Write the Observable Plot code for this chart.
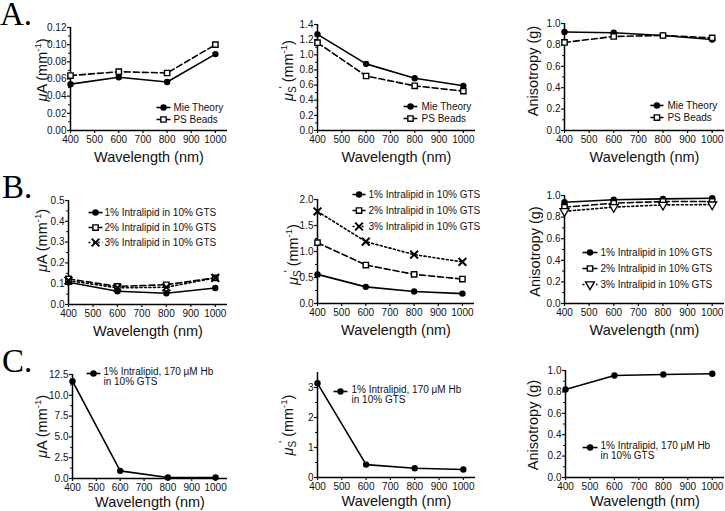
<!DOCTYPE html>
<html><head><meta charset="utf-8">
<script src="https://cdn.jsdelivr.net/npm/d3@7"></script>
<script src="https://cdn.jsdelivr.net/npm/@observablehq/plot@0.6"></script>
<style>
body{margin:0;background:#fff}
#chart{position:relative;width:725px;height:511px;overflow:hidden;background:#fff;font-family:"Liberation Sans",Arial,sans-serif}
#chart svg{position:absolute;left:0;top:0}
.letter{position:absolute;font-family:"Liberation Serif","Times New Roman",serif;font-size:33px;line-height:26px;color:#000}
</style></head><body><div id="chart"></div>
<script>
// ---- data ----
const wavelengths = [400, 600, 800, 1000];
const xTickValues = [400, 500, 600, 700, 800, 900, 1000];
const panelLetters = ["A.", "B.", "C."];
// Row A: Mie theory vs PS beads
const muA_mie = [0.054, 0.062, 0.0565, 0.089];
const muA_ps  = [0.064, 0.0685, 0.067, 0.100];
const mus_mie = [1.27, 0.88, 0.69, 0.59];
const mus_ps  = [1.16, 0.72, 0.59, 0.52];
const g_mie   = [0.92, 0.913, 0.888, 0.851];
const g_ps    = [0.823, 0.879, 0.888, 0.866];
// Row B: Intralipid in 10% GTS
const muA_il1 = [0.107, 0.064, 0.054, 0.079];
const muA_il2 = [0.123, 0.087, 0.095, 0.128];
const muA_il3 = [0.115, 0.080, 0.083, 0.128];
const mus_il1 = [0.56, 0.32, 0.23, 0.19];
const mus_il2 = [1.17, 0.74, 0.56, 0.47];
const mus_il3 = [1.77, 1.19, 0.94, 0.80];
const g_il1   = [0.938, 0.96, 0.969, 0.975];
const g_il2   = [0.892, 0.929, 0.944, 0.944];
const g_il3   = [0.854, 0.892, 0.913, 0.916];
// Row C: Intralipid + Hb
const muA_hb  = [11.7, 0.92, 0.12, 0.12];
const mus_hb  = [3.14, 0.43, 0.31, 0.265];
const g_hb    = [0.822, 0.953, 0.962, 0.969];
// labels
const labelsA = ["Mie Theory", "PS Beads"];
const labelsB = ["1% Intralipid in 10% GTS", "2% Intralipid in 10% GTS", "3% Intralipid in 10% GTS"];
const labelsC = ["1% Intralipid, 170 μM Hb\nin 10% GTS"];
const xTitle = "Wavelength (nm)";
const yTitles = {muA: "μA (mm-1)", mus: "μs' (mm-1)", g: "Anisotropy (g)"};

// ---- styles ----
const styles = [
  {dash: null, dot: {symbol: "circle", r: 3.2, fill: "#000", stroke: "none"}},
  {dash: "6,3", dot: {symbol: "square", r: 3, fill: "#fff", stroke: "#000", strokeWidth: 1.4}},
  {dash: "2,2.5", dot: {symbol: "times", r: 3.6, fill: "none", stroke: "#000", strokeWidth: 2}},
  {dash: "2,2.5", dot: {symbol: "triangle", r: 3.3, fill: "#fff", stroke: "#000", strokeWidth: 1.3, rotate: 180}}
];

const panels = [
  {frame:[70,227,27,130], yMax:0.12, yStep:0.02, fmt:".2f", yt:"muA", ytOff:[-28,-9], xtDy:27,
   series:[[muA_mie,labelsA[0],0],[muA_ps,labelsA[1],1]], legX:[756,814,826], legY:[0.0268,0.0128]},
  {frame:[317,475,24,130], yMax:1.4, yStep:0.2, fmt:".1f", yt:"mus", ytOff:[-29,-7], xtDy:27,
   series:[[mus_mie,labelsA[0],0],[mus_ps,labelsA[1],1]], legX:[754,811,828], legY:[0.317,0.158]},
  {frame:[564,724,23,130], yMax:1.0, yStep:0.2, fmt:".1f", yt:"g", ytOff:[-31,-6], xtDy:27,
   series:[[g_mie,labelsA[0],0],[g_ps,labelsA[1],1]], legX:[749,802,818], legY:[0.234,0.121]},
  {frame:[68,227,200,304], yMax:0.5, yStep:0.1, fmt:".1f", yt:"muA", ytOff:[-26,-12], xtDy:27,
   series:[[muA_il1,labelsB[0],0],[muA_il2,labelsB[1],1],[muA_il3,labelsB[2],2]], legX:[482,539,547], legY:[0.442,0.370,0.298]},
  {frame:[317,474,199,303], yMax:2.0, yStep:0.5, fmt:".1f", yt:"mus", ytOff:[-24,3], xtDy:27,
   series:[[mus_il1,labelsB[0],0],[mus_il2,labelsB[1],1],[mus_il3,labelsB[2],2]], legX:[545,599,611], legY:[2.096,1.788,1.481]},
  {frame:[564,724,195,303], yMax:1.0, yStep:0.2, fmt:".1f", yt:"g", ytOff:[-29,2], xtDy:27,
   series:[[g_il1,labelsB[0],0],[g_il2,labelsB[1],1],[g_il3,labelsB[2],3]], legX:[473,534,546], legY:[0.472,0.324,0.176]},
  {frame:[72,227,374,478], yMax:12.5, yStep:2.5, fmt:".1f", yt:"muA", ytOff:[-30,0], xtDy:24,
   series:[[muA_hb,labelsC[0],0]], legX:[459,517,530], legY:[12.62]},
  {frame:[317,475,372,477], yMax:3.5, yStep:1, tickMax:3, fmt:"d", yt:"mus", ytOff:[-29,0], xtDy:24,
   series:[[mus_hb,labelsC[0],0]], legX:[466,523,540], legY:[2.867]},
  {frame:[565,724,370,477], yMax:1.0, yStep:0.2, fmt:".1f", yt:"g", ytOff:[-32,1], xtDy:24,
   series:[[g_hb,labelsC[0],0]], legX:[470,531,543], legY:[0.280]}
];

const richParts = {
  muA: [{t:"μ", it:true}, {t:"A (mm"}, {t:"-1", sup:true}, {t:")"}],
  mus: [{t:"μ", it:true}, {t:"S", sub:true}, {t:"'", prime:true}, {t:" (mm"}, {t:"-1", sup:true}, {t:")"}],
  g: null
};

const chart = document.getElementById("chart");
const W = 725, H = 511;

function ticksFor(p) {
  const max = p.tickMax ?? p.yMax;
  const n = Math.round(max / p.yStep);
  const major = d3.range(n + 1).map(i => +(i * p.yStep).toFixed(6));
  const minor = d3.range(n).map(i => +((i + 0.5) * p.yStep).toFixed(6));
  return {major, minor};
}

panels.forEach(p => {
  const [L, R, T, B] = p.frame;
  const {major, minor} = ticksFor(p);
  const marks = [
    Plot.ruleX([400], {stroke: "#000", strokeWidth: 1.5}),
    Plot.ruleY([0], {stroke: "#000", strokeWidth: 1.5}),
    Plot.axisX(xTickValues, {tickSize: 3, tickPadding: 2, fontSize: 10, label: null, tickFormat: d3.format("d"), color: "#111", strokeWidth: 1.2}),
    Plot.axisY(major, {tickSize: 3, tickPadding: 1, fontSize: 10, label: null, tickFormat: d3.format(p.fmt), color: "#111", strokeWidth: 1.2}),
    Plot.axisY(minor, {tickSize: 2, tickFormat: () => "", label: null, color: "#111", strokeWidth: 1})
  ];
  p.series.forEach(([vals, label, si]) => {
    const rows = vals.map((v, j) => ({x: wavelengths[j], y: v}));
    const st = styles[si];
    marks.push(Plot.line(rows, {x: "x", y: "y", stroke: "#000", strokeWidth: 1.6, strokeDasharray: st.dash}));
  });
  p.series.forEach(([vals, label, si]) => {
    const rows = vals.map((v, j) => ({x: wavelengths[j], y: v}));
    marks.push(Plot.dot(rows, {x: "x", y: "y", ...styles[si].dot}));
  });
  // legend
  p.series.forEach(([vals, label, si], i) => {
    const st = styles[si];
    const ly = p.legY[i];
    marks.push(Plot.link([ly], {x1: () => p.legX[0], x2: () => p.legX[1], y1: d => d, y2: d => d, stroke: "#000", strokeWidth: 1.6, strokeDasharray: st.dash}));
    marks.push(Plot.dot([ly], {x: () => (p.legX[0] + p.legX[1]) / 2, y: d => d, ...st.dot}));
    const multi = label.includes("\n");
    marks.push(Plot.text([label], {x: () => p.legX[2], y: () => ly, text: d => d, textAnchor: "start", fontSize: 10, fill: "#111",
      lineAnchor: multi ? "top" : "middle", dy: multi ? -6 : 0, lineHeight: 1.0}));
  });
  marks.push(Plot.text([xTitle], {frameAnchor: "bottom", dy: p.xtDy, text: d => d, fontSize: 14.5, fill: "#111", textAnchor: "middle", lineAnchor: "middle"}));
  marks.push(Plot.text([yTitles[p.yt]], {frameAnchor: "left", rotate: -90, dx: p.ytOff[0], dy: p.ytOff[1], text: d => d, fontSize: 14.5, fill: "#111", textAnchor: "middle", lineAnchor: "middle"}));

  const svg = Plot.plot({
    width: W, height: H,
    marginLeft: L, marginRight: W - R, marginTop: T, marginBottom: H - B,
    x: {domain: [400, 1050]},
    y: {domain: [0, p.yMax]},
    style: {fontFamily: '"Liberation Sans", Arial, sans-serif', fontSize: "10px", color: "#000", background: "transparent", overflow: "visible"},
    marks
  });
  // rich y title (italic mu, subscript, superscript)
  const parts = richParts[p.yt];
  if (parts) {
    d3.select(svg).selectAll("text").filter(function() { return this.textContent === yTitles[p.yt]; }).each(function() {
      const t = d3.select(this);
      t.text(null);
      let shift = 0;
      parts.forEach(part => {
        const ts = t.append("tspan").text(part.t);
        if (part.it) ts.attr("font-style", "italic");
        let target = 0;
        if (part.sup) { target = -6; ts.attr("font-size", 9.5); }
        if (part.sub) { target = 3; ts.attr("font-size", 10); }
        if (part.prime) { target = -6; ts.attr("font-size", 10).attr("dx", -2); }
        const dyv = target - shift;
        if (dyv !== 0) ts.attr("dy", dyv);
        shift = target;
      });
    });
  }
  chart.appendChild(svg);
});

// panel letters
const letterPos = [[0, 1], [2, 174], [2, 348]];
panelLetters.forEach((s, i) => {
  const d = document.createElement("div");
  d.className = "letter";
  d.textContent = s;
  d.style.left = letterPos[i][0] + "px";
  d.style.top = letterPos[i][1] + "px";
  chart.appendChild(d);
});
</script>
</body></html>
